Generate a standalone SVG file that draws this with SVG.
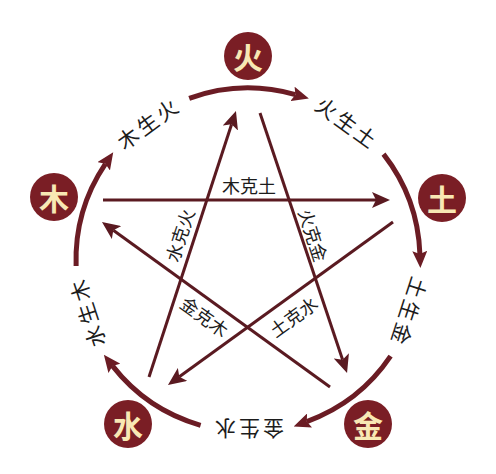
<svg xmlns="http://www.w3.org/2000/svg" width="496" height="474" viewBox="0 0 496 474">
<defs>
<style>
.bg{fill:#ffffff}
.node circle{fill:#7a1e25}
.node text{font-family:"Noto Sans CJK SC","Noto Sans",sans-serif;font-weight:bold;font-size:30px;fill:#f8e8b4;text-anchor:middle;dominant-baseline:central}
.arc{fill:none;stroke:#6b1c24;stroke-width:5;marker-end:url(#ah)}
.star{fill:none;stroke:#5a1a21;stroke-width:3;marker-end:url(#sh)}
.lbl{font-family:"Noto Sans CJK SC","Noto Sans",sans-serif;fill:#1c1c1c;text-anchor:middle;dominant-baseline:central}
.sheng{font-size:21px;letter-spacing:3px}
.ke{font-size:18px}
</style>
<marker id="ah" markerUnits="userSpaceOnUse" markerWidth="17" markerHeight="15" refX="3" refY="7.5" orient="auto" viewBox="0 0 17 15">
<path d="M0,0 L17,7.5 L0,15 L3,7.5 z" fill="#6b1c24"/>
</marker>
<marker id="sh" markerUnits="userSpaceOnUse" markerWidth="18" markerHeight="16" refX="4" refY="8" orient="auto" viewBox="0 0 18 16">
<path d="M0,0 L18,8 L0,16 L4,8 z" fill="#5a1a21"/>
</marker>
</defs>
<rect class="bg" x="0" y="0" width="496" height="474"/>
<g id="connectors">
<path class="arc" d="M189.2,98.4 A172,172 0 0 1 295.4,94.7"/>
<path class="arc" d="M383.5,154.1 A172,172 0 0 1 419.9,254.0"/>
<path class="arc" d="M390.6,356.2 A172,172 0 0 1 306.8,421.6"/>
<path class="arc" d="M200.6,425.3 A172,172 0 0 1 112.5,365.9"/>
<path class="arc" d="M76.1,266.0 A172,172 0 0 1 105.4,163.8"/>
<line class="star" x1="103" y1="200" x2="376" y2="200"/>
<line class="star" x1="149" y1="377" x2="231.6" y2="124.3"/>
<line class="star" x1="260" y1="113" x2="342.6" y2="359.7"/>
<line class="star" x1="393" y1="222" x2="179.3" y2="376.8"/>
<line class="star" x1="330" y1="387" x2="113.3" y2="230.2"/>
<text class="lbl sheng" transform="translate(148.1,122.5) rotate(-36)">木生火</text>
<text class="lbl sheng" transform="translate(347.9,122.5) rotate(36)">火生土</text>
<text class="lbl sheng" transform="translate(409.7,312.5) rotate(108)">土生金</text>
<text class="lbl sheng" transform="translate(248,430) rotate(180)">金生水</text>
<text class="lbl sheng" transform="translate(86.3,312.5) rotate(-108)">水生木</text>
<text class="lbl ke" transform="translate(249,185)">木克土</text>
<text class="lbl ke" transform="translate(179,235) rotate(-72)">水克火</text>
<text class="lbl ke" transform="translate(314,235) rotate(72)">火克金</text>
<text class="lbl ke" transform="translate(205,316) rotate(36)">金克木</text>
<text class="lbl ke" transform="translate(293,316) rotate(-36)">土克水</text>
</g>
<g id="node-fire" class="node"><circle cx="248" cy="56" r="24"/><text x="248" y="56">火</text></g>
<g id="node-earth" class="node"><circle cx="442" cy="198" r="24"/><text x="442" y="198">土</text></g>
<g id="node-metal" class="node"><circle cx="368" cy="424" r="24"/><text x="368" y="424">金</text></g>
<g id="node-water" class="node"><circle cx="128" cy="424" r="24"/><text x="128" y="424">水</text></g>
<g id="node-wood" class="node"><circle cx="54" cy="197" r="24"/><text x="54" y="197">木</text></g>
</svg>
